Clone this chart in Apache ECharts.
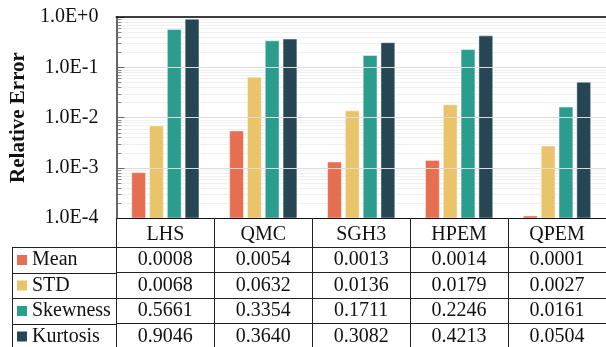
<!DOCTYPE html>
<html><head><meta charset="utf-8">
<script src="https://cdn.jsdelivr.net/npm/echarts@6/dist/echarts.min.js"></script>
<style>html,body{margin:0;padding:0;background:#fff}#c{width:606px;height:347px}</style>
</head><body><div id="c"></div>
<script>
// ---- data ----
const categories = ['LHS', 'QMC', 'SGH3', 'HPEM', 'QPEM'];
const seriesNames = ['Mean', 'STD', 'Skewness', 'Kurtosis'];
const mean = [0.0008, 0.0054, 0.0013, 0.0014, 0.00011];
const std = [0.0068, 0.0632, 0.0136, 0.0179, 0.0027];
const skewness = [0.5661, 0.3354, 0.1711, 0.2246, 0.0161];
const kurtosis = [0.9046, 0.3640, 0.3082, 0.4213, 0.0504];
const yMin = 1e-4, yMax = 1;

// ---- style ----
const colors = ['#E76F51', '#E9C46A', '#2A9D8F', '#264653'];
const FONT = 'Liberation Serif';
const GRID = { left: 116, top: 17, width: 495, height: 201 };
const ROW_OFF = [29, 54.5, 80, 105.5];
const ROW_H = 25.5;
const TABLE_LEFT = 12.5;
const LINE_C = '#222';

const allSeries = [mean, std, skewness, kurtosis];

function fmtY(v) {
  const e = Math.round(Math.log10(v));
  return '1.0E' + (e >= 0 ? '+' : '-') + Math.abs(e);
}

function makeRender(si) {
  return function (params, api) {
    const idx = api.value(0);
    const v = api.value(1);
    const top = api.coord([idx, v]);
    const base = api.coord([idx, yMin]);
    const c0 = api.coord([0, v])[0], c1 = api.coord([1, v])[0];
    const cw = c1 - c0;
    const bw = cw * 0.1414;
    const step = cw * 0.1818;
    const cx = top[0] + (si - 1.5) * step;
    return {
      type: 'rect',
      shape: { x: cx - bw / 2, y: top[1], width: bw, height: base[1] - top[1] },
      style: { fill: colors[si], stroke: 'rgba(255,255,255,0.45)', lineWidth: 1 }
    };
  };
}

// log-spaced minor grid lines and inside minor ticks
function renderMinor(params, api) {
  const cs = params.coordSys;
  const children = [];
  for (let e = Math.round(Math.log10(yMin)); e < Math.round(Math.log10(yMax)); e++) {
    for (let k = 2; k <= 9; k++) {
      const y = Math.round(api.coord([0, k * Math.pow(10, e)])[1]) + 0.5;
      children.push({ type: 'line', shape: { x1: cs.x, y1: y, x2: cs.x + cs.width, y2: y },
        style: { stroke: '#f0f0f0', lineWidth: 1 }, silent: true });
      children.push({ type: 'line', shape: { x1: cs.x, y1: y, x2: cs.x + 5, y2: y },
        style: { stroke: '#888', lineWidth: 1 }, silent: true, z2: 5 });
    }
  }
  return { type: 'group', children: children };
}

const xAxes = [
  {
    type: 'category', data: categories, position: 'bottom', gridIndex: 0,
    axisLine: { onZero: false, lineStyle: { color: '#111', width: 1.2 } },
    axisTick: { show: true, length: ROW_OFF[0], lineStyle: { color: LINE_C, width: 1 } },
    axisLabel: { interval: 0, margin: 7, fontSize: 20, fontFamily: FONT, color: '#111' },
    splitLine: { show: false }, z: 10
  },
  {
    type: 'category', data: categories, position: 'top', gridIndex: 0,
    axisLine: { onZero: false, lineStyle: { color: '#000', width: 1.6 } },
    axisTick: { show: false }, axisLabel: { show: false }, splitLine: { show: false }, z: 10
  }
];
allSeries.forEach(function (arr, si) {
  xAxes.push({
    type: 'category', data: categories, position: 'bottom', offset: ROW_OFF[si], gridIndex: 0,
    axisLine: { onZero: false, lineStyle: { color: LINE_C, width: 1.2 } },
    axisTick: { show: true, length: ROW_H, lineStyle: { color: LINE_C, width: 1 } },
    axisLabel: {
      interval: 0, margin: 3, fontSize: 20, fontFamily: FONT, color: '#111',
      formatter: function (val, idx) { return arr[idx].toFixed(4); }
    },
    splitLine: { show: false }
  });
});

const graphics = [];
ROW_OFF.forEach(function (off) {
  const y = Math.round(GRID.top + GRID.height + off) + 0.5;
  graphics.push({ type: 'line', shape: { x1: TABLE_LEFT, y1: y, x2: GRID.left, y2: y },
    style: { stroke: LINE_C, lineWidth: 1.2 }, silent: true });
});
graphics.push({ type: 'line',
  shape: { x1: TABLE_LEFT, y1: GRID.top + GRID.height + ROW_OFF[0], x2: TABLE_LEFT, y2: 360 },
  style: { stroke: LINE_C, lineWidth: 1 }, silent: true });

const series = [{
  type: 'custom', name: '_minor', xAxisIndex: 0, yAxisIndex: 0, silent: true, z: 0,
  renderItem: renderMinor, encode: { x: 0, y: 1 }, data: [[0, yMin]]
}].concat(allSeries.map(function (arr, si) {
  return {
    type: 'custom', name: seriesNames[si], xAxisIndex: 0, yAxisIndex: 0, z: 3,
    itemStyle: { color: colors[si] },
    renderItem: makeRender(si),
    encode: { x: 0, y: 1 },
    data: arr.map(function (v, i) { return [i, v]; })
  };
}));

const chart = echarts.init(document.getElementById('c'), null, { renderer: 'canvas' });
chart.setOption({
  animation: false,
  color: colors,
  backgroundColor: '#fff',
  textStyle: { fontFamily: FONT },
  grid: { left: GRID.left, top: GRID.top, width: GRID.width, height: GRID.height, containLabel: false },
  legend: {
    data: seriesNames, orient: 'vertical', left: 17, top: 250, padding: 0,
    itemWidth: 10, itemHeight: 10, itemGap: 5.5, icon: 'rect', selectedMode: false,
    textStyle: { fontSize: 20, fontFamily: FONT, color: '#111', lineHeight: 20 }
  },
  xAxis: xAxes,
  yAxis: {
    type: 'log', logBase: 10, min: yMin, max: yMax,
    name: 'Relative Error', nameLocation: 'middle', nameGap: 82, nameRotate: 90,
    nameTextStyle: { fontSize: 21, fontFamily: FONT, fontWeight: 'bold', color: '#111' },
    axisLine: { show: true, lineStyle: { color: '#666', width: 2 } },
    axisTick: { show: true, inside: true, length: 8, lineStyle: { color: '#666', width: 1 } },
    minorTick: { show: false },
    axisLabel: { margin: 18, fontSize: 20, fontFamily: FONT, color: '#111', formatter: fmtY },
    splitLine: { show: true, lineStyle: { color: '#dcdcdc', width: 1 } },
    minorSplitLine: { show: false },
    z: 5
  },
  graphic: graphics,
  series: series
});
</script>
</body></html>
